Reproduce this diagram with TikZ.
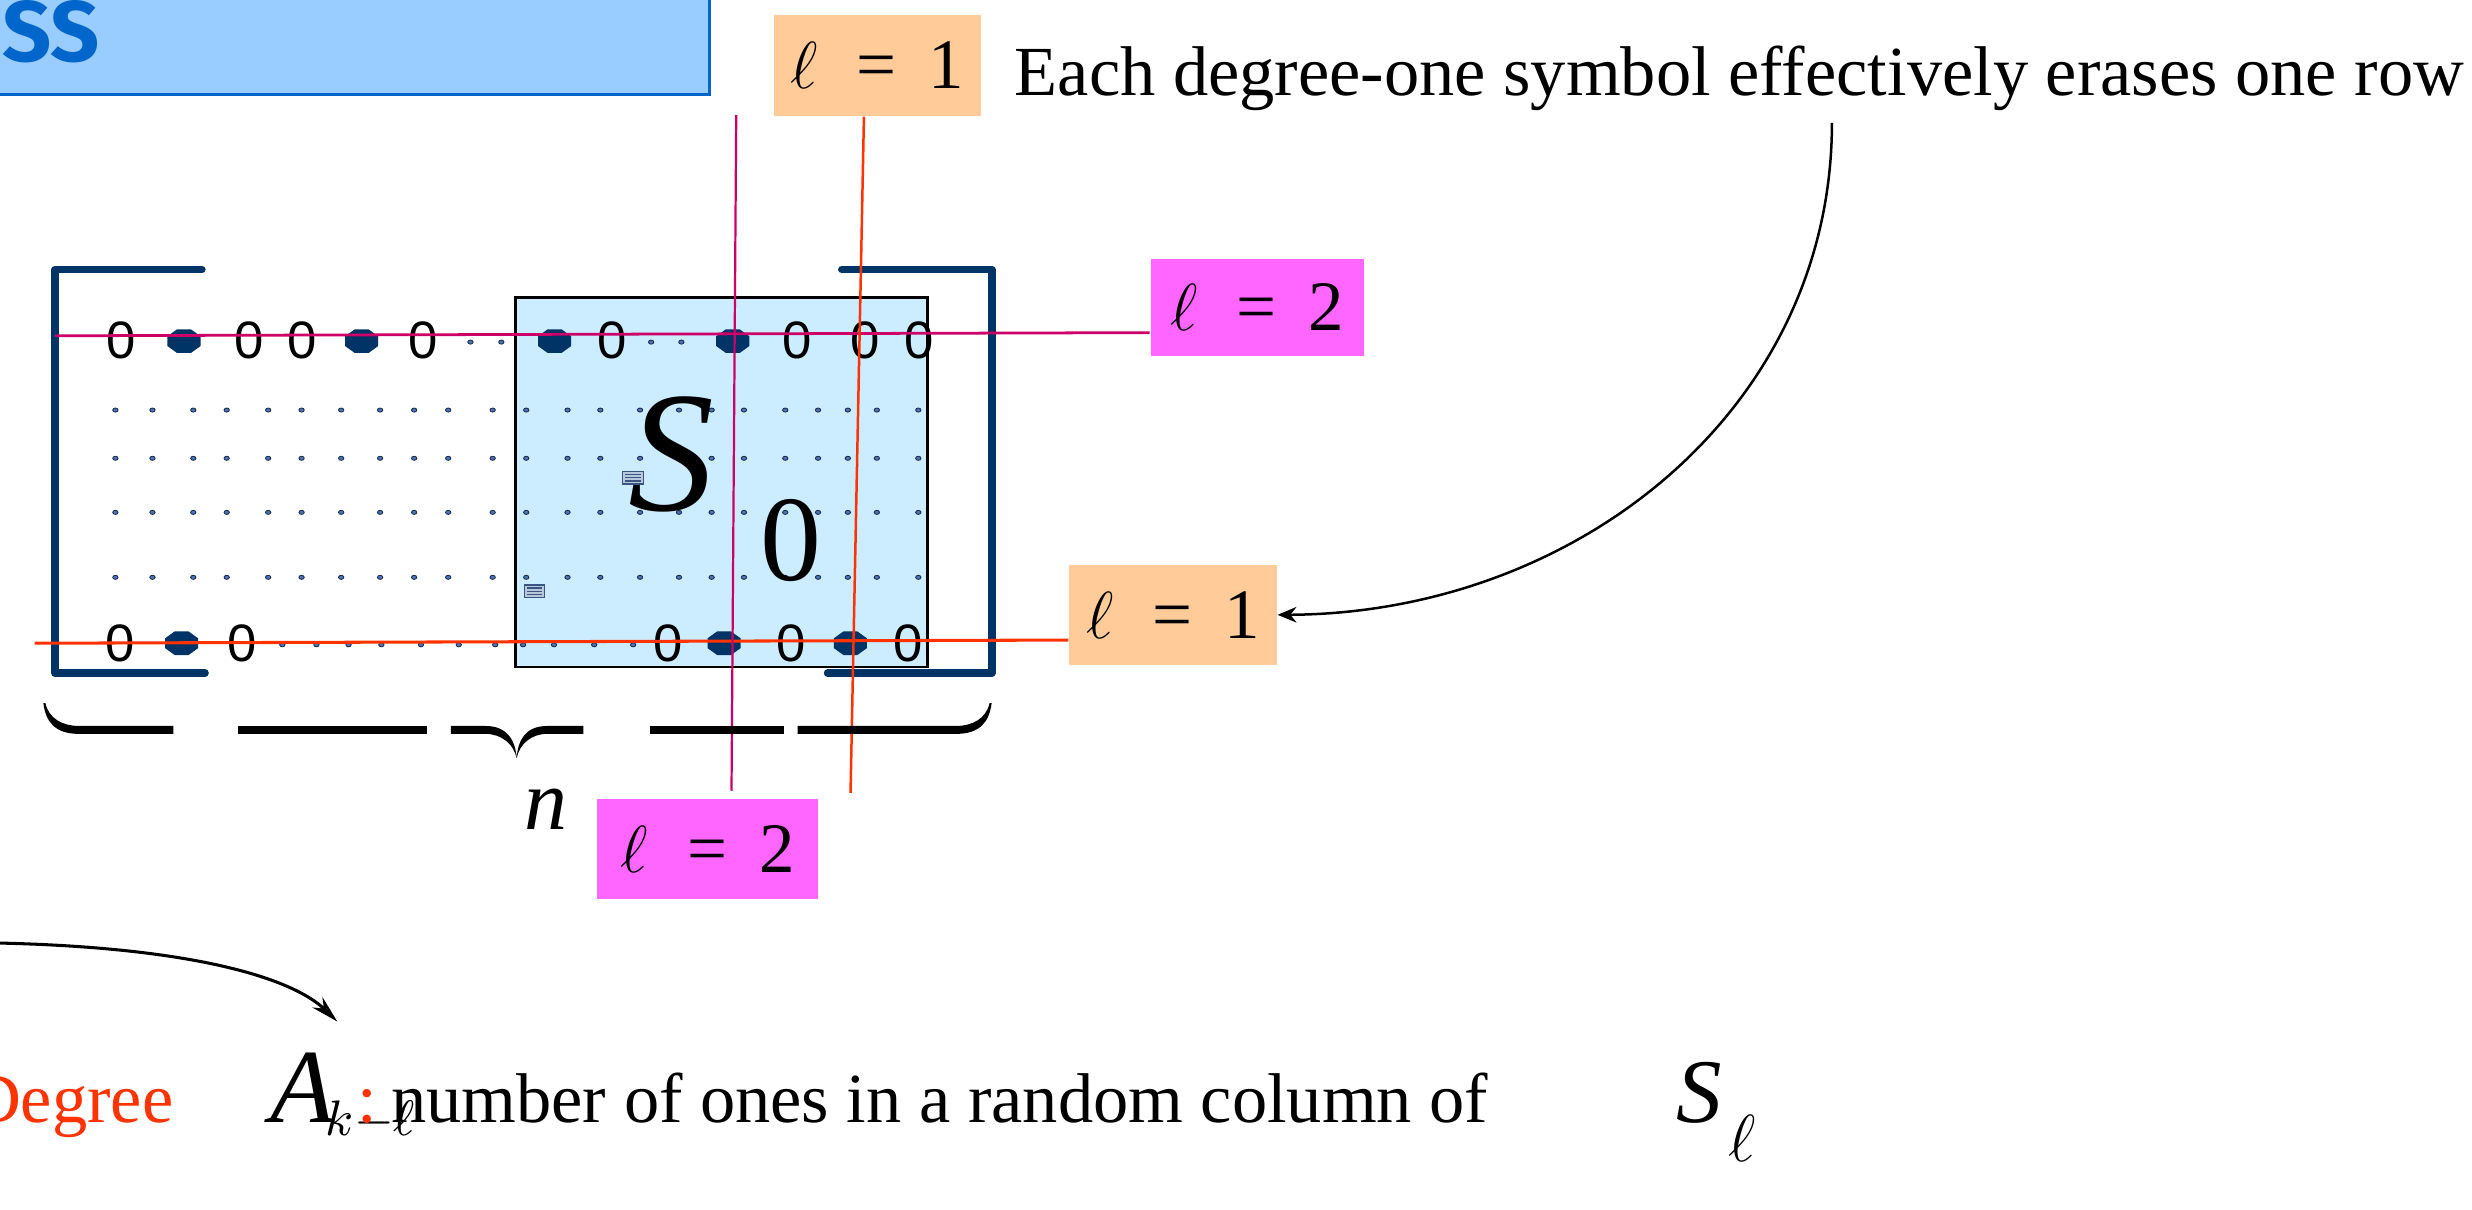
\documentclass[tikz,border=0pt]{standalone}
\usepackage{fontspec}
\setmainfont{Liberation Serif}
\newfontfamily\sansf{Liberation Sans}
\newfontfamily\titlef{Fira Sans}
\usetikzlibrary{arrows.meta,calc}

\definecolor{navy}{HTML}{003366}
\definecolor{magline}{HTML}{CC0066}
\definecolor{redline}{HTML}{FF3300}
\definecolor{magbox}{HTML}{FF66FF}
\definecolor{peach}{HTML}{FFCC99}
\definecolor{sbox}{HTML}{CCECFF}
\definecolor{titlefill}{HTML}{99CCFF}
\definecolor{titleblue}{HTML}{0066CC}
\definecolor{dotfill}{HTML}{4A73B8}
\definecolor{dotedge}{HTML}{1B2B48}
\definecolor{iconfill}{HTML}{B8C8DC}
\definecolor{icondark}{HTML}{3A5680}

\newcommand\fs[1]{\fontsize{#1}{#1}\selectfont}
\newcommand\ellab[1]{$\ell$\hspace{0.55em}=\hspace{0.45em}#1}
\newcommand\octa[2]{\fill[navy] (#1,#2) +(10.5,3.1) -- +(4.4,7.5) -- +(-4.4,7.5) -- +(-10.5,3.1) -- +(-10.5,-3.1) -- +(-4.4,-7.5) -- +(4.4,-7.5) -- +(10.5,-3.1) -- cycle;}
\newcommand\mdot[2]{\filldraw[fill=dotfill, draw=dotedge, line width=0.15pt] (#1,#2) ellipse [x radius=0.017cm, y radius=0.013cm];}
\newcommand\objicon[2]{\draw[fill=iconfill, draw=icondark, line width=0.25pt] (#1,#2) rectangle ++(13,8);
  \foreach \k in {2,4,6}{\draw[icondark, line width=0.25pt] ($(#1,#2)+(1.5,\k)$) -- ++(10,0);}}

\begin{document}
\begin{tikzpicture}[x=0.01cm,y=-0.01cm,
  zero/.style={font=\sansf\fs{9.5}, inner sep=0},
  obox/.style={fill=peach, inner sep=0, font=\fs{12.8}},
  mbox/.style={fill=magbox, inner sep=0, font=\fs{12.8}},
  txt/.style={inner sep=0, anchor=base west, font=\fs{12.7}},
  bracketline/.style={navy, line width=1.4pt, line cap=round, line join=round},
  magl/.style={magline, line width=0.5pt},
  redl/.style={redline, line width=0.55pt},
  bracefill/.style={black}]
\useasboundingbox (0,0) rectangle (1568,767);

% title bar
\draw[fill=titlefill, draw=titleblue, line width=0.6pt] (-10,-10) rectangle (450,60);
\node[inner sep=0, anchor=base west, text=titleblue, font=\titlef\bfseries\fs{15.5}] (title) at (1,39) {SS};

% S0 block
\node[draw=black, fill=sbox, line width=0.5pt, minimum width=2.61cm, minimum height=2.34cm, inner sep=0] (s0box) at (457.5,306) {};

% brackets
\draw[bracketline] (128,171) -- (35,171) -- (35,427) -- (130,427);
\draw[bracketline] (534,171) -- (629,171) -- (629,427) -- (525,427);

% dot rows
\foreach \yy in {260.1,290.7,325.0,366.2}{
  \foreach \xx in {73.2,96.7,122.6,143.8,170.1,191.3,216.4,241.1,262.7,284.3,312.5,333.8,360.0,380.8,406.0,430.7,451.4,471.9,498.1,518.9,537.8,556.2,582.5}{
    \mdot{\xx}{\yy}}}

% top row
\foreach \xx in {298.4,318.0,413.0,432.2}{\mdot{\xx}{217}}
\foreach \xx in {116.7,229.4,351.8,464.8}{\octa{\xx}{216.4}}
\foreach \xx [count=\i] in {76.7,158.3,191.7,268.2,388.3,505.6,548.7,582.9}{
  \node[zero] (tz\i) at (\xx,215.7) {0};}

% bottom row
\foreach \xx in {179.1,200.7,221.1,241.9,267.0,291.0,314.1,331.8,351.4,376.9,401.6}{\mdot{\xx}{409}}
\foreach \xx in {115.2,459.3,539.4}{\octa{\xx}{408}}
\foreach \xx [count=\i] in {75.9,153.6,424.0,501.7,576.2}{
  \node[zero] (bz\i) at (\xx,408.4) {0};}

% S_0 label
\node[inner sep=0, anchor=base west, font=\itshape\fs{31}] (bigS) at (398,323.5) {S};
\node[inner sep=0, anchor=base west, font=\fs{22}] (big0) at (482,368) {0};

% object icons
\objicon{395}{299}
\objicon{332.5}{371}

% label boxes
\node[obox, minimum width=1.31cm, minimum height=0.635cm] (l1t) at (556.5,41.5) {\ellab{1}};
\node[mbox, minimum width=1.35cm, minimum height=0.61cm] (m2r) at (797.5,195) {\ellab{2}};
\node[obox, minimum width=1.313cm, minimum height=0.632cm] (l1b) at (744,390) {\ellab{1}};
\node[mbox, minimum width=1.40cm, minimum height=0.636cm] (m2b) at (449,538.6) {\ellab{2}};

% crossing lines
\coordinate (mh) at (35,213);
\coordinate (oh) at (22,408);
\coordinate (mv) at (467,73);
\coordinate (rv) at (539.5,503);
\draw[magl] (mh) -- ($(m2r.west)+(0,16)$);
\draw[redl] (oh) -- ($(l1b.west)+(0,16)$);
\draw[magl, line width=0.4pt] (mv) -- ($(m2b.north)+(15,-4.5)$);
\draw[redl, line width=0.45pt] ($(l1t.south)+(-8.5,0)$) -- (rv);

% brace
\fill[bracefill] (27.5,446) .. controls (29,458) and (35,465.5) .. (50,465.5) -- (110,465.5) -- (110,460.5) -- (50,460.5) .. controls (40,460.5) and (31,456) .. (28.8,446) -- cycle;
\fill[bracefill] (151,460.5) rectangle (271,465.5);
\fill[bracefill] (286,460.5) -- (308,460.5) .. controls (322,460.5) and (327,470) .. (327.7,481) .. controls (328.4,470) and (333,460.5) .. (347,460.5) -- (370,460.5) -- (370,465.5) -- (347,465.5) .. controls (337,465.5) and (329.5,472) .. (327.7,481) .. controls (326,472) and (318,465.5) .. (308,465.5) -- (286,465.5) -- cycle;
\fill[bracefill] (412,460.5) rectangle (497,465.5);
\fill[bracefill] (629,446) .. controls (627.5,458) and (621.5,465.5) .. (606.5,465.5) -- (506,465.5) -- (506,460.5) -- (606.5,460.5) .. controls (616.5,460.5) and (625.5,456) .. (627.7,446) -- cycle;
\node[inner sep=0, anchor=base west, font=\itshape\fs{15.5}] (nlab) at (332,526) {n};

% top note and arrow
\node[txt] (note) at (643,60.3) {Each degree-one symbol effectively erases one row};
\coordinate (arrs) at (1162,78);
\draw[line width=0.45pt, -{Stealth[length=3.4pt, width=2.8pt]}] (arrs) .. controls (1162,260) and (1000,389) .. (l1b.east);

% bottom line
\node[txt, anchor=base east, text=redline] (deg) at (110.7,712) {Degree};
\node[inner sep=0, anchor=base west, font=\itshape\fs{19}] (A) at (171,712) {A};
\node[inner sep=0, anchor=base west, font=\fs{9.5}] (Asub) at (206,720) {$k{-}\ell$};
\node[txt, text=redline] (colon) at (226,712) {:};
\node[txt] (def) at (247.5,712) {number of ones in a random column of};
\node[inner sep=0, anchor=base west, font=\itshape\fs{16.4}] (Sl) at (1063,712) {S};
\node[inner sep=0, anchor=base west, font=\fs{11.5}] (Slsub) at (1096,737) {$\ell$};
\coordinate (la) at (-10,598);
\coordinate (atip) at (214,648);
\draw[line width=0.55pt, -{Stealth[length=5pt, width=2.6pt]}] (la) .. controls (120,600) and (185,620) .. (atip);
\end{tikzpicture}
\end{document}
